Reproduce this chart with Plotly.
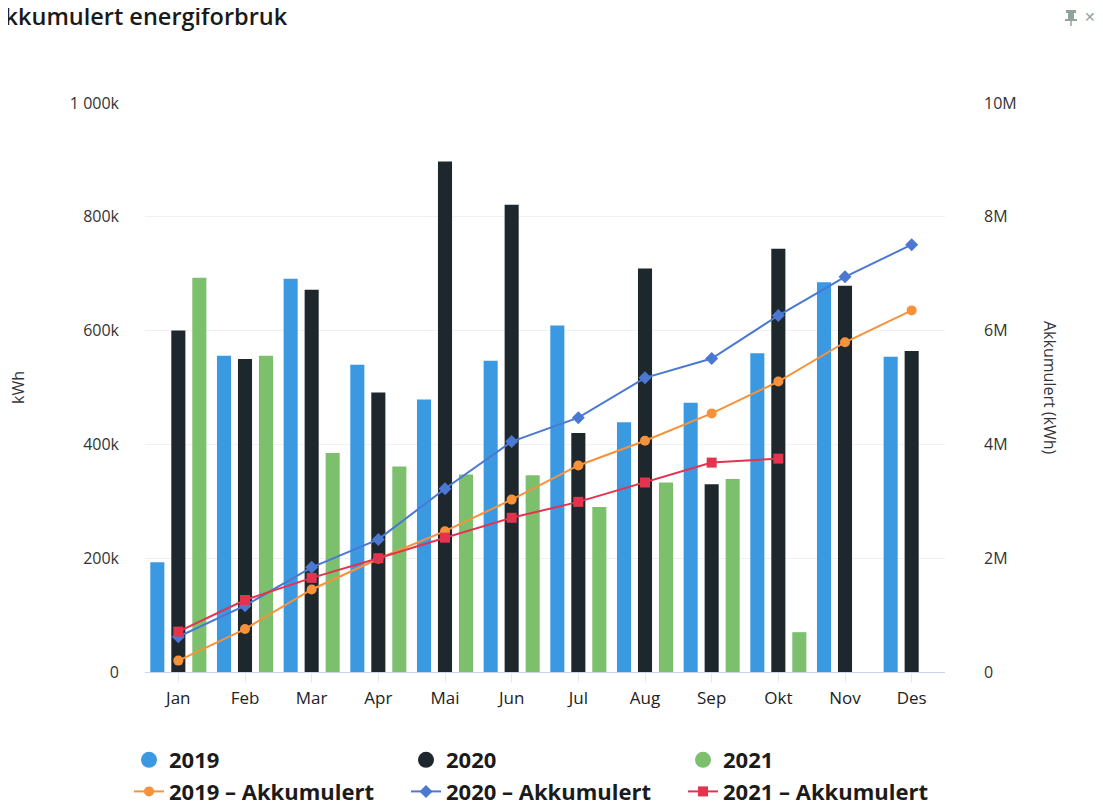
import plotly.graph_objects as go

months = ["Jan", "Feb", "Mar", "Apr", "Mai", "Jun", "Jul", "Aug", "Sep", "Okt", "Nov", "Des"]

kwh_2019 = [193000, 556000, 691000, 540000, 479000, 547000, 609000, 439000, 473000, 560000, 685000, 554000]
kwh_2020 = [600000, 550000, 672000, 491000, 897000, 821000, 420000, 709000, 330000, 744000, 679000, 564000]
kwh_2021 = [693000, 556000, 385000, 361000, 347000, 346000, 290000, 333000, 339000, 70000, None, None]

akk_2019 = [200000, 755000, 1450000, 1990000, 2475000, 3030000, 3630000, 4065000, 4545000, 5105000, 5795000, 6355000]
akk_2020 = [620000, 1165000, 1840000, 2330000, 3220000, 4050000, 4470000, 5170000, 5510000, 6265000, 6945000, 7510000]
akk_2021 = [710000, 1265000, 1655000, 2000000, 2360000, 2710000, 2990000, 3330000, 3680000, 3750000, None, None]

left_ticks = [0, 200000, 400000, 600000, 800000, 1000000]
left_text = ["0", "200k", "400k", "600k", "800k", "1 000k"]
right_ticks = [0, 2000000, 4000000, 6000000, 8000000, 10000000]
right_text = ["0", "2M", "4M", "6M", "8M", "10M"]

C_BLUE = "#3a99e0"
C_BLACK = "#1e272c"
C_GREEN = "#7cc06d"
C_ORANGE = "#f7923a"
C_LBLUE = "#4a78d2"
C_RED = "#e3334f"
C_ICON = "#8fa59b"

FONT = "Open Sans, Noto Sans, sans-serif"

fig = go.Figure()

bar_series = [("2019", kwh_2019, C_BLUE), ("2020", kwh_2020, C_BLACK), ("2021", kwh_2021, C_GREEN)]
for name, vals, col in bar_series:
    fig.add_trace(go.Bar(x=months, y=vals, name=name, marker=dict(color=col, line=dict(width=0)),
                         showlegend=False, legendgroup=name, offsetgroup=name))

# legend entries for bars (circle symbols like the reference)
for name, vals, col in bar_series:
    fig.add_trace(go.Scatter(x=[None], y=[None], mode="markers", name=name, legendgroup=name,
                             marker=dict(color=col, size=18, symbol="circle")))

line_series = [("2019 – Akkumulert", akk_2019, C_ORANGE, "circle", 10),
               ("2020 – Akkumulert", akk_2020, C_LBLUE, "diamond", 10),
               ("2021 – Akkumulert", akk_2021, C_RED, "square", 10)]
for name, vals, col, sym, sz in line_series:
    fig.add_trace(go.Scatter(x=months, y=vals, name=name, yaxis="y2", mode="lines+markers",
                             line=dict(color=col, width=2),
                             marker=dict(color=col, symbol=sym, size=sz)))

# page is drawn with an 8px body offset; margins compensate for it
OFF = 8
W, H = 1103, 802
L, T = 145 - OFF, 103 - OFF
R = W - (945 - OFF)
B = H - (672 - OFF)
pw, ph = W - L - R, H - T - B

def px_x(x):
    return (x - OFF - L) / pw

def px_y(y):
    return (H - B - (y - OFF)) / ph

fig.update_layout(
    width=W, height=H,
    margin=dict(l=L, r=R, t=T, b=B, autoexpand=False),
    paper_bgcolor="white", plot_bgcolor="white",
    font=dict(family=FONT, color="#333333"),
    barmode="group", bargap=0.055, bargroupgap=0.33,
    showlegend=True,
    legend=dict(orientation="h", xref="paper", yref="paper",
                x=px_x(129), xanchor="left", y=px_y(739), yanchor="top",
                font=dict(family=FONT, size=22, color="#1b1b1b", weight="bold"),
                entrywidth=232, entrywidthmode="pixels", traceorder="normal",
                bgcolor="rgba(0,0,0,0)"),
    xaxis=dict(type="category", range=[-0.5, 11.5], showgrid=False, showline=True,
               linecolor="#ccd6eb", linewidth=1,
               ticks="outside", ticklen=10, tickcolor="#e6e9f0", tickwidth=1, automargin=False,
               tickfont=dict(family=FONT, size=17, color="#222222"), ticklabelstandoff=1,
               zeroline=False),
    yaxis=dict(range=[0, 1000000], tickvals=left_ticks, ticktext=left_text, showgrid=True,
               gridcolor="#f0f0f0", gridwidth=1, zeroline=False, showline=False, automargin=False,
               tickfont=dict(family=FONT, size=16, color="#333333"), ticklabelstandoff=25),
    yaxis2=dict(range=[0, 10000000], tickvals=right_ticks, ticktext=right_text, overlaying="y",
                side="right", showgrid=False, zeroline=False, showline=False, automargin=False,
                tickfont=dict(family=FONT, size=16, color="#333333"), ticklabelstandoff=38),
    annotations=[
        dict(text="Akkumulert energiforbruk", xref="paper", yref="paper", x=px_x(-13), y=px_y(16),
             xanchor="left", yanchor="middle", showarrow=False,
             font=dict(family=FONT, size=23.5, color="#1a1a1a", weight=600)),
        dict(text="kWh", xref="paper", yref="paper", x=px_x(18), y=px_y(388),
             xanchor="center", yanchor="middle", showarrow=False, textangle=-90,
             font=dict(family=FONT, size=16, color="#333333")),
        dict(text="Akkumulert (kWh)", xref="paper", yref="paper", x=px_x(1050), y=px_y(388),
             xanchor="center", yanchor="middle", showarrow=False, textangle=90,
             font=dict(family=FONT, size=16, color="#333333")),
        dict(text="✕", xref="paper", yref="paper", x=px_x(1090), y=px_y(17),
             xanchor="center", yanchor="middle", showarrow=False,
             font=dict(family="DejaVu Sans", size=14, color=C_ICON, weight="bold")),
    ],
    shapes=[
        dict(type="rect", xref="paper", yref="paper", x0=px_x(1066), x1=px_x(1076), y0=px_y(10), y1=px_y(13),
             fillcolor=C_ICON, line=dict(width=0)),
        dict(type="rect", xref="paper", yref="paper", x0=px_x(1068), x1=px_x(1074), y0=px_y(13), y1=px_y(19),
             fillcolor=C_ICON, line=dict(width=0)),
        dict(type="rect", xref="paper", yref="paper", x0=px_x(1065), x1=px_x(1077), y0=px_y(19), y1=px_y(21),
             fillcolor=C_ICON, line=dict(width=0)),
        dict(type="line", xref="paper", yref="paper", x0=px_x(1071), x1=px_x(1071), y0=px_y(21), y1=px_y(26),
             line=dict(color=C_ICON, width=1.5)),
    ],
)

fig.write_html("out.html")
